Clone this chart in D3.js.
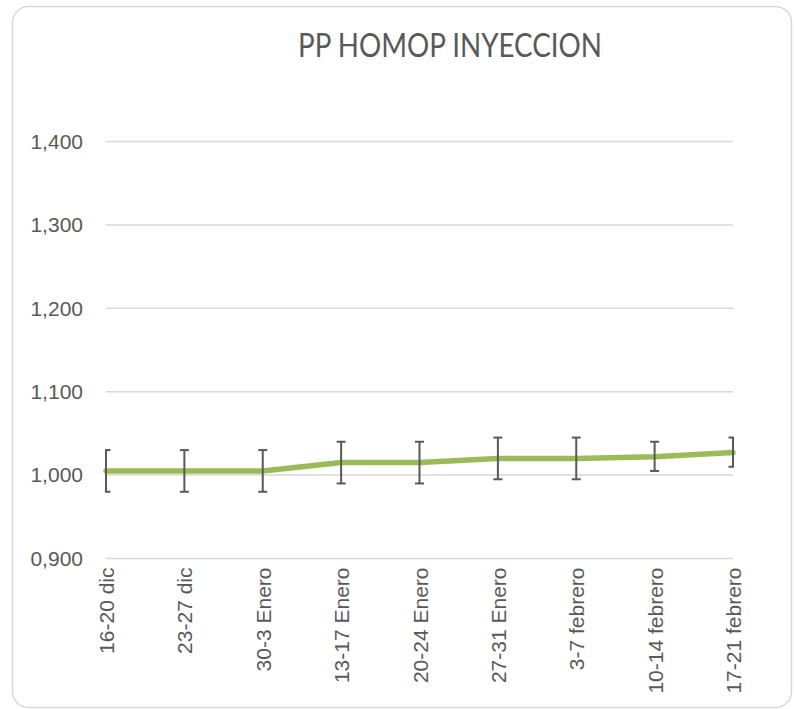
<!DOCTYPE html>
<html>
<head>
<meta charset="utf-8">
<script src="https://cdn.jsdelivr.net/npm/d3@7"></script>
<style>
  body { margin: 0; background: #fff; }
  svg { display: block; }
</style>
</head>
<body>
<div id="chart-area"></div>
<script>
// chart data
var categories = ["16-20 dic", "23-27 dic", "30-3 Enero", "13-17 Enero", "20-24 Enero",
                  "27-31 Enero", "3-7 febrero", "10-14 febrero", "17-21 febrero"];
var values   = [1005, 1005, 1005, 1015, 1015, 1020, 1020, 1022, 1027];
var errHigh  = [1030, 1030, 1030, 1040, 1040, 1045, 1045, 1040, 1045];
var errLow   = [980, 980, 980, 990, 990, 995, 995, 1005, 1010];
var yTicks   = [900, 1000, 1100, 1200, 1300, 1400];
var yTickLabels = ["0,900", "1,000", "1,100", "1,200", "1,300", "1,400"];
var title = "PP HOMOP INYECCION";

var width = 794, height = 709;
var margin = {top: 141.5, right: 61, bottom: 150.5, left: 106};
var plotW = width - margin.left - margin.right;
var plotH = height - margin.top - margin.bottom;

var root = d3.select("#chart-area").append("svg")
    .attr("width", width)
    .attr("height", height);

// outer chart frame
root.append("rect")
    .attr("x", 12.5).attr("y", 6.5)
    .attr("width", 779).attr("height", 701)
    .attr("rx", 16).attr("ry", 16)
    .style("fill", "#fff")
    .style("stroke", "#d9d9d9")
    .style("stroke-width", 1.5);

root.append("text")
    .attr("x", 450).attr("y", 57)
    .attr("text-anchor", "middle")
    .attr("textLength", 304)
    .attr("lengthAdjust", "spacingAndGlyphs")
    .style("font-family", "Lato, 'Open Sans', sans-serif")
    .style("font-size", "33px")
    .style("fill", "#595959")
    .text(title);

var svg = root.append("g")
    .attr("transform", "translate(" + margin.left + "," + margin.top + ")");

var xScale = d3.scalePoint().domain(categories).range([0, plotW]);
var yScale = d3.scaleLinear().domain([900, 1400]).range([plotH, 0]);

// gridlines
svg.selectAll("line.grid").data(yTicks).enter().append("line")
    .attr("class", "grid")
    .attr("x1", 0).attr("x2", plotW)
    .attr("y1", function(d) { return yScale(d); })
    .attr("y2", function(d) { return yScale(d); })
    .style("stroke", "#d9d9d9")
    .style("stroke-width", 1.5);

// y axis labels
var yAxis = d3.axisLeft(yScale)
    .tickValues(yTicks)
    .tickSize(0)
    .tickPadding(23)
    .tickFormat(function(d, i) { return yTickLabels[i]; });
var yG = svg.append("g").call(yAxis);
yG.select(".domain").remove();
yG.selectAll("text")
    .style("font-family", "'Liberation Sans', Arial, sans-serif")
    .style("font-size", "21px")
    .style("fill", "#595959");

// x axis labels (rotated)
var xAxis = d3.axisBottom(xScale).tickSize(0).tickPadding(0);
var xG = svg.append("g")
    .attr("transform", "translate(0," + plotH + ")")
    .call(xAxis);
xG.select(".domain").remove();
xG.selectAll("text")
    .attr("transform", "rotate(-90)")
    .attr("text-anchor", "end")
    .attr("x", -9)
    .attr("y", 0)
    .attr("dy", "0.36em")
    .style("font-family", "'Liberation Sans', Arial, sans-serif")
    .style("font-size", "21px")
    .style("fill", "#595959");

// clip for error bars at plot edges
root.append("clipPath").attr("id", "plotclip")
    .append("rect")
    .attr("x", margin.left - 1).attr("y", 0)
    .attr("width", plotW + 2).attr("height", height);

// line
var line = d3.line()
    .x(function(d, i) { return xScale(categories[i]); })
    .y(function(d) { return yScale(d); });

svg.append("path")
    .datum(values)
    .attr("d", line)
    .style("fill", "none")
    .style("stroke", "#9bbb59")
    .style("stroke-width", 5.5)
    .style("stroke-linecap", "round")
    .style("stroke-linejoin", "round");

// error bars
var eb = root.append("g")
    .attr("clip-path", "url(#plotclip)")
    .append("g")
    .attr("transform", "translate(" + margin.left + "," + margin.top + ")");

var capW = 4.5;
var bars = eb.selectAll("g.err").data(categories).enter().append("g")
    .attr("class", "err")
    .style("stroke", "#595959")
    .style("stroke-width", 2);

bars.append("line")
    .attr("x1", function(d) { return xScale(d); })
    .attr("x2", function(d) { return xScale(d); })
    .attr("y1", function(d, i) { return yScale(errLow[i]); })
    .attr("y2", function(d, i) { return yScale(errHigh[i]); });
bars.append("line")
    .attr("x1", function(d) { return xScale(d) - capW; })
    .attr("x2", function(d) { return xScale(d) + capW; })
    .attr("y1", function(d, i) { return yScale(errHigh[i]); })
    .attr("y2", function(d, i) { return yScale(errHigh[i]); });
bars.append("line")
    .attr("x1", function(d) { return xScale(d) - capW; })
    .attr("x2", function(d) { return xScale(d) + capW; })
    .attr("y1", function(d, i) { return yScale(errLow[i]); })
    .attr("y2", function(d, i) { return yScale(errLow[i]); });
</script>
</body>
</html>
